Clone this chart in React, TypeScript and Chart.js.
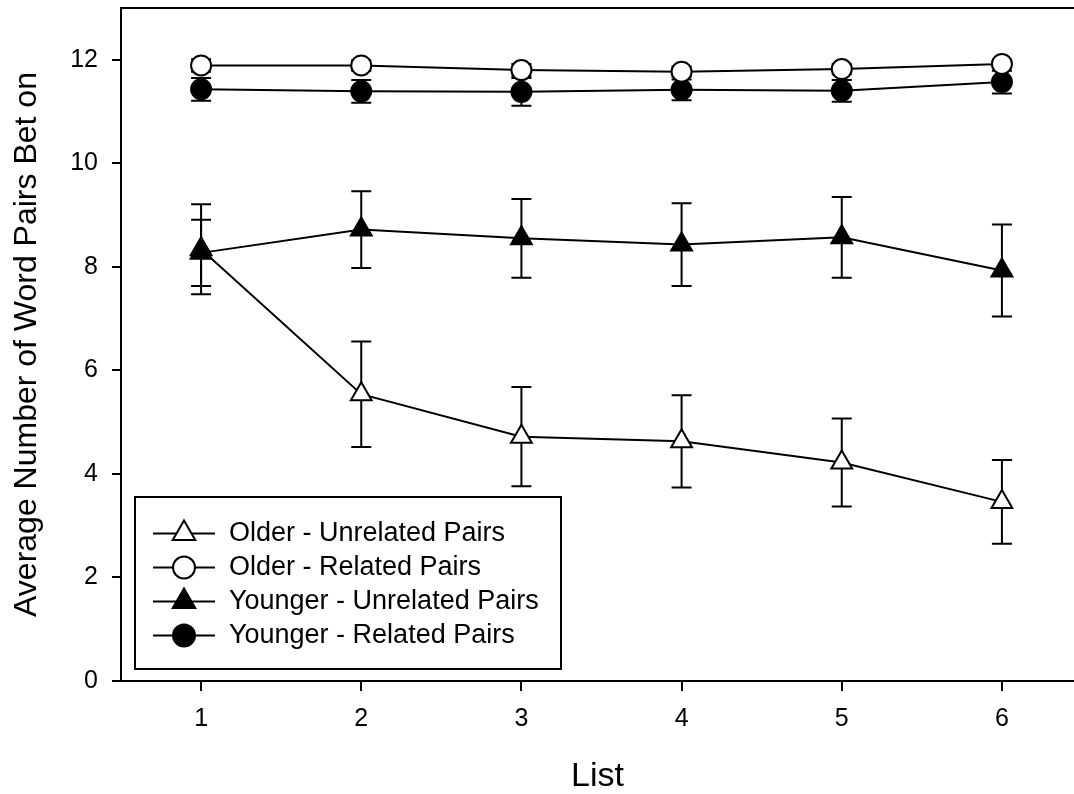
import React, { useEffect, useRef } from "react";
import { Chart, registerables } from "chart.js";

Chart.register(...registerables);

// Word lists presented (x axis) and y tick values
const LISTS = [1, 2, 3, 4, 5, 6];
const Y_TICKS = [0, 2, 4, 6, 8, 10, 12];

// Mean number of word pairs bet on, with standard errors
const OLDER_UNRELATED = [8.34, 5.54, 4.72, 4.63, 4.22, 3.46];
const OLDER_UNRELATED_SE = [0.87, 1.02, 0.96, 0.89, 0.85, 0.81];
const OLDER_RELATED = [11.89, 11.89, 11.8, 11.77, 11.82, 11.92];
const OLDER_RELATED_SE = [0.12, 0.1, 0.12, 0.1, 0.1, 0.08];
const YOUNGER_UNRELATED = [8.27, 8.72, 8.55, 8.43, 8.57, 7.93];
const YOUNGER_UNRELATED_SE = [0.64, 0.74, 0.76, 0.8, 0.78, 0.89];
const YOUNGER_RELATED = [11.43, 11.39, 11.38, 11.42, 11.4, 11.57];
const YOUNGER_RELATED_SE = [0.22, 0.22, 0.27, 0.2, 0.21, 0.22];

const FONT = "'Liberation Sans', Arial, Helvetica, sans-serif";

type Series = {
  label: string;
  values: number[];
  se: number[];
  marker: "triangle" | "circle";
  fill: string;
  radius: number;
  order: number;
};

const SERIES: Series[] = [
  { label: "Older - Unrelated Pairs", values: OLDER_UNRELATED, se: OLDER_UNRELATED_SE, marker: "triangle", fill: "#ffffff", radius: 12, order: 2 },
  { label: "Older - Related Pairs", values: OLDER_RELATED, se: OLDER_RELATED_SE, marker: "circle", fill: "#ffffff", radius: 10, order: 0 },
  { label: "Younger - Unrelated Pairs", values: YOUNGER_UNRELATED, se: YOUNGER_UNRELATED_SE, marker: "triangle", fill: "#000000", radius: 12, order: 1 },
  { label: "Younger - Related Pairs", values: YOUNGER_RELATED, se: YOUNGER_RELATED_SE, marker: "circle", fill: "#000000", radius: 10, order: 3 },
];

function drawMarker(ctx: CanvasRenderingContext2D, marker: string, x: number, y: number, r: number, fill: string) {
  ctx.beginPath();
  if (marker === "circle") {
    ctx.arc(x, y, r, 0, Math.PI * 2);
  } else {
    for (let k = 0; k < 3; k++) {
      const a = (k * 2 * Math.PI) / 3;
      const px = x + Math.sin(a) * r;
      const py = y - Math.cos(a) * r;
      if (k === 0) ctx.moveTo(px, py);
      else ctx.lineTo(px, py);
    }
    ctx.closePath();
  }
  ctx.fillStyle = fill;
  ctx.fill();
  ctx.lineWidth = 2;
  ctx.strokeStyle = "#000";
  ctx.stroke();
}

// Vertical error bars with caps, drawn underneath the markers
const errorBarPlugin = {
  id: "errorBars",
  beforeDatasetsDraw(chart: any) {
    const { ctx, scales } = chart;
    const xs = scales.x;
    const ys = scales.y;
    ctx.save();
    ctx.strokeStyle = "#000";
    ctx.lineWidth = 2;
    SERIES.forEach((s) => {
      s.values.forEach((v, i) => {
        const px = xs.getPixelForValue(LISTS[i]);
        const top = ys.getPixelForValue(v + s.se[i]);
        const bot = ys.getPixelForValue(v - s.se[i]);
        ctx.beginPath();
        ctx.moveTo(px, top);
        ctx.lineTo(px, bot);
        ctx.moveTo(px - 10, top);
        ctx.lineTo(px + 10, top);
        ctx.moveTo(px - 10, bot);
        ctx.lineTo(px + 10, bot);
        ctx.stroke();
      });
    });
    ctx.restore();
  },
};

// Top edge of the plot frame
const framePlugin = {
  id: "frameTop",
  afterDraw(chart: any) {
    const { ctx, chartArea } = chart;
    ctx.save();
    ctx.strokeStyle = "#000";
    ctx.lineWidth = 2;
    ctx.beginPath();
    ctx.moveTo(chartArea.left, chartArea.top);
    ctx.lineTo(chartArea.right, chartArea.top);
    ctx.stroke();
    ctx.restore();
  },
};

// Boxed legend in the lower-left corner of the plot
const boxLegendPlugin = {
  id: "boxLegend",
  afterDraw(chart: any) {
    const { ctx, chartArea } = chart;
    const w = 426;
    const h = 172;
    const left = chartArea.left + 14;
    const top = chartArea.bottom - 12 - h;
    ctx.save();
    ctx.fillStyle = "#fff";
    ctx.fillRect(left, top, w, h);
    ctx.strokeStyle = "#000";
    ctx.lineWidth = 2;
    ctx.strokeRect(left, top, w, h);
    ctx.font = `27px ${FONT}`;
    ctx.textBaseline = "middle";
    ctx.textAlign = "left";
    SERIES.forEach((s, i) => {
      const y = top + 36.5 + i * 34;
      ctx.beginPath();
      ctx.moveTo(left + 18, y);
      ctx.lineTo(left + 80, y);
      ctx.lineWidth = 2;
      ctx.strokeStyle = "#000";
      ctx.stroke();
      drawMarker(ctx, s.marker, left + 49, y, s.radius + 1, s.fill);
      ctx.fillStyle = "#000";
      ctx.fillText(s.label, left + 94, y);
    });
    ctx.restore();
  },
};

export default function App() {
  const canvasRef = useRef<HTMLCanvasElement | null>(null);

  useEffect(() => {
    const canvas = canvasRef.current;
    if (!canvas) return;

    const datasets = SERIES.map((s) => ({
      label: s.label,
      data: LISTS.map((x, i) => ({ x, y: s.values[i] })),
      borderColor: "#000",
      borderWidth: 2,
      pointStyle: s.marker,
      pointRadius: s.radius,
      pointBackgroundColor: s.fill,
      pointBorderColor: "#000",
      pointBorderWidth: 2,
      tension: 0,
      fill: false,
      order: s.order,
    }));

    const chart = new Chart(canvas, {
      type: "line",
      data: { datasets },
      options: {
        animation: false,
        responsive: false,
        devicePixelRatio: 1,
        layout: { autoPadding: false, padding: { top: 8, left: 0, right: 0, bottom: 0 } },
        plugins: { legend: { display: false }, tooltip: { enabled: false } },
        scales: {
          x: {
            type: "linear",
            min: 0.5,
            max: 6.45,
            afterBuildTicks: (s: any) => {
              s.ticks = LISTS.map((v) => ({ value: v }));
            },
            afterFit: (s: any) => {
              s.height = 113;
              s.paddingLeft = 0;
              s.paddingRight = 0;
            },
            grid: { drawOnChartArea: false, drawTicks: true, tickLength: 10, color: "#000", lineWidth: 2 },
            border: { display: true, color: "#000", width: 2 },
            ticks: { color: "#000", font: { family: FONT, size: 25 }, padding: 13, maxRotation: 0, autoSkip: false },
            title: { display: true, text: "List", color: "#000", font: { family: FONT, size: 34 }, padding: { top: 0, bottom: -3 } },
          },
          y: {
            type: "linear",
            min: 0,
            max: 13,
            afterBuildTicks: (s: any) => {
              s.ticks = Y_TICKS.map((v) => ({ value: v }));
            },
            afterFit: (s: any) => {
              s.width = 121;
              s.paddingTop = 0;
              s.paddingBottom = 0;
            },
            grid: { drawOnChartArea: false, drawTicks: true, tickLength: 9, color: "#000", lineWidth: 2 },
            border: { display: true, color: "#000", width: 2 },
            ticks: { color: "#000", font: { family: FONT, size: 25 }, padding: 14 },
            title: {
              display: true,
              text: "Average Number of Word Pairs Bet on",
              color: "#000",
              font: { family: FONT, size: 32 },
              padding: { top: 8, bottom: 0 },
            },
          },
        },
      },
      plugins: [errorBarPlugin, framePlugin, boxLegendPlugin],
    } as any);

    return () => chart.destroy();
  }, []);

  return (
    <div style={{ position: "fixed", left: 0, top: 0, width: 1074, height: 794, background: "#fff" }}>
      <canvas ref={canvasRef} width={1074} height={794} style={{ display: "block" }} />
    </div>
  );
}
